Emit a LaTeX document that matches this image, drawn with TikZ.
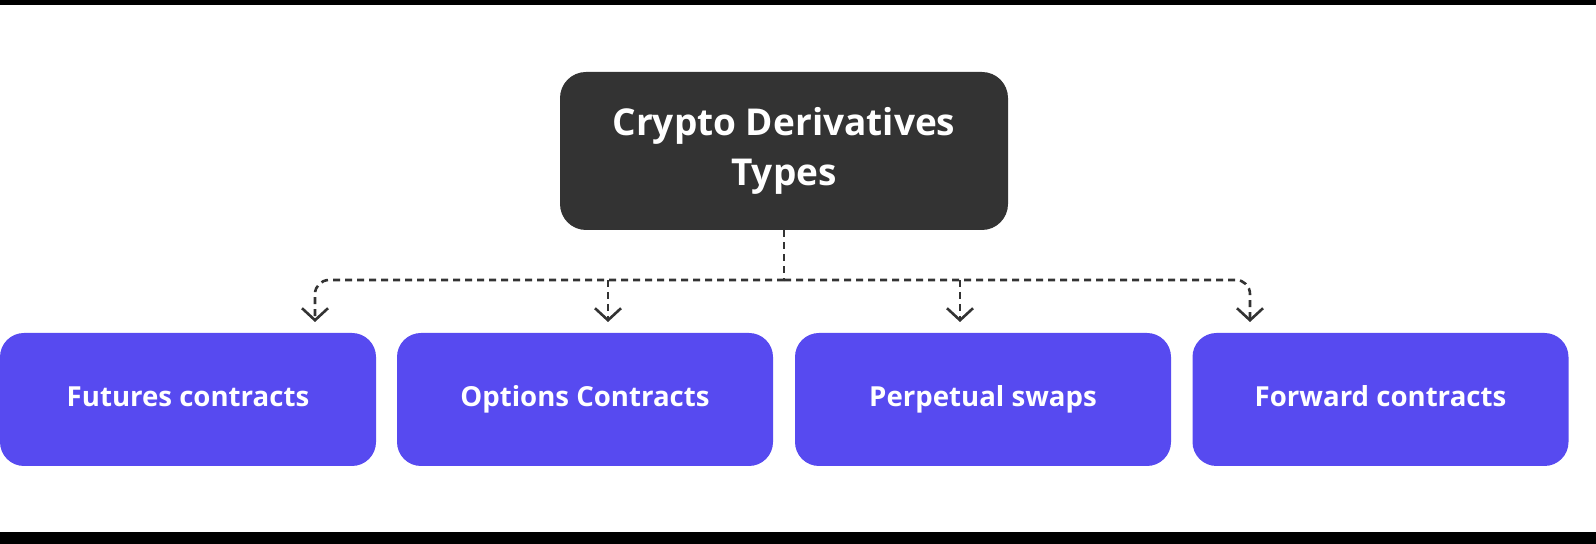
\documentclass[tikz,border=0pt]{standalone}
\usepackage{fontspec}
\setmainfont{Open Sans}
\usetikzlibrary{arrows.meta}
\definecolor{topc}{HTML}{333333}
\definecolor{boxc}{HTML}{574AF0}
\tikzset{
  catbox/.style={fill=boxc,rounded corners=12pt,minimum width=188pt,minimum height=66.5pt,inner sep=0pt,text=white,text height=10pt,text depth=3pt,font=\bfseries\fontsize{13.8}{16}\selectfont},
  conn/.style={draw=black!80,line width=1.3pt,dash pattern=on 3.5pt off 2.5pt,rounded corners=7pt,-{Straight Barb[length=6pt,width=13pt,line width=1.3pt]}}
}
\begin{document}
\begin{tikzpicture}[x=0.5pt,y=-0.5pt]
\useasboundingbox (0,0) rectangle (1596,544);
\fill[black] (0,0) rectangle (1596,5);
\fill[black] (0,532) rectangle (1596,544);
\node[fill=topc,rounded corners=13pt,minimum width=224pt,minimum height=79pt,inner sep=0pt,text=white,align=center,font=\bfseries\fontsize{18.5}{25}\selectfont] (top) at (784,151) {Crypto Derivatives\\Types};
\node[catbox] (a) at (188,399.5) {Futures contracts};
\node[catbox] (b) at (585,399.5) {Options Contracts};
\node[catbox] (c) at (983,399.5) {Perpetual swaps};
\node[catbox] (d) at (1380.5,399.5) {Forward contracts};
\coordinate (j) at (top.south|-0,280);
\draw[draw=black!80,line width=1.3pt,dash pattern=on 3.5pt off 2.5pt] (top.south) -- (j);
\draw[conn] (j) -| (315,322);
\draw[conn] (j) -| (1250,322);
\draw[conn] (608,280) -- (608,322);
\draw[conn] (960,280) -- (960,322);
\end{tikzpicture}
\end{document}
